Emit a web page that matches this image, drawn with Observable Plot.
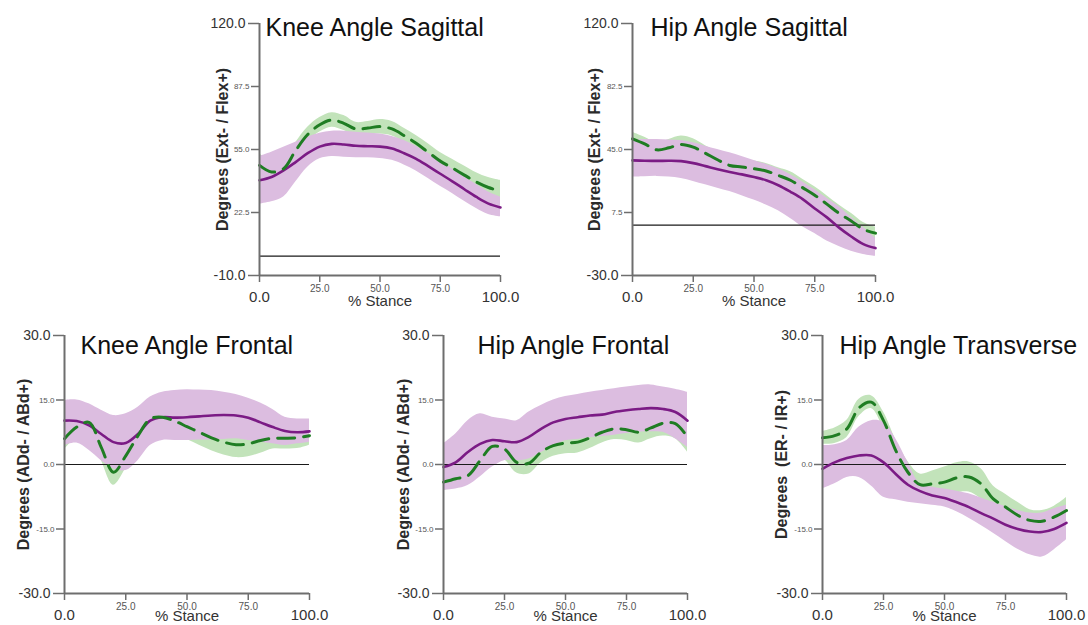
<!DOCTYPE html>
<html><head><meta charset="utf-8">
<script src="https://cdn.jsdelivr.net/npm/d3@7"></script>
<script src="https://cdn.jsdelivr.net/npm/@observablehq/plot@0.6"></script>
<style>
html,body{margin:0;padding:0;background:#fff;overflow:hidden}
#chart{position:relative;width:1088px;height:625px;overflow:hidden;font-family:"Liberation Sans",Arial,sans-serif}
#chart svg{position:absolute;overflow:visible}
</style></head><body><div id="chart"></div>
<script>
// % stance sample points
const stance = [0,5,10,15,20,25,30,35,40,45,50,55,60,65,70,75,80,85,90,95,100];

// Knee Angle Sagittal
const kneeSagPurpleMean = [39.1,40.8,44.2,48.5,53.1,56.5,57.9,57.6,56.9,56.7,56.5,55.5,53.1,50.2,46.4,42.5,38.6,34.5,30.5,27.1,25.1];
const kneeSagPurpleHigh = [51.4,53.6,56.2,58.8,61.3,63.4,64.4,64.4,63.9,63.5,63.0,61.7,59.6,56.7,53.1,49.4,45.0,40.8,36.9,33.1,30.5];
const kneeSagPurpleLow  = [26.8,28.0,30.5,38.2,45.9,50.2,51.4,51.0,50.7,50.7,50.4,49.4,47.0,43.9,40.0,36.0,32.3,28.3,24.6,21.5,20.3];
const kneeSagGreenMean  = [46.8,43.4,45.1,54.5,62.7,67.8,70.2,68.5,65.6,66.1,66.8,65.6,62.2,58.2,53.6,49.0,45.5,41.8,38.2,35.4,33.6];
const kneeSagGreenHigh  = [53.0,48.5,49.5,58.5,66.5,71.5,74.0,72.5,69.0,69.5,70.5,69.5,66.0,62.2,58.0,53.5,50.0,46.5,43.0,40.5,39.0];
const kneeSagGreenLow   = [41.5,38.5,40.5,50.5,58.8,64.0,66.5,64.8,62.0,62.5,63.0,62.0,58.5,54.5,49.5,45.0,41.0,37.2,33.5,30.5,28.5];

// Hip Angle Sagittal
const hipSagPurpleMean = [38.5,38.3,38.2,38.3,38.1,36.9,35.1,33.2,31.6,30.2,28.6,26.7,23.7,19.8,15.5,9.9,4.6,-1.5,-6.8,-11.3,-13.7];
const hipSagPurpleHigh = [50.7,50.9,50.9,50.6,50.3,49.0,47.0,45.0,43.0,40.8,38.5,36.2,33.5,30.0,25.7,21.0,16.0,10.9,4.5,-1.5,-7.8];
const hipSagPurpleLow  = [28.6,28.8,29.0,28.6,27.7,26.0,24.0,22.0,20.0,17.5,14.9,12.0,8.5,4.0,-1.0,-5.0,-9.5,-12.7,-15.5,-17.5,-18.6];
const hipSagGreenMean  = [51.3,48.3,44.8,46.0,48.0,46.4,42.8,38.9,35.5,34.6,33.6,32.2,29.6,26.7,22.3,17.8,12.5,7.0,2.5,-2.5,-4.8];
const hipSagGreenHigh  = [55.3,52.3,49.0,51.0,53.0,51.4,47.3,43.4,40.0,39.1,38.1,36.7,34.1,31.7,27.3,22.8,17.5,12.0,7.0,1.5,-1.3];
const hipSagGreenLow   = [47.3,44.3,40.8,41.0,43.0,41.4,38.3,34.4,31.0,30.1,29.1,27.7,25.1,21.7,17.3,12.8,7.5,2.0,-2.0,-6.5,-8.3];

// Knee Angle Frontal
const kneeFrPurpleMean = [10.2,10.1,9.1,7.1,5.2,5.0,7.1,10.2,11.0,10.9,11.0,11.2,11.4,11.5,11.4,10.9,9.8,8.7,7.8,7.5,7.7];
const kneeFrPurpleHigh = [14.9,15.0,14.1,12.6,11.4,11.8,13.3,15.7,16.8,17.2,17.4,17.3,17.2,16.8,16.3,15.4,14.3,12.8,11.0,10.6,10.6];
const kneeFrPurpleLow  = [4.4,5.0,3.3,0.9,-1.0,-1.4,0.9,4.4,5.6,5.6,5.6,5.7,5.7,5.8,6.0,5.6,5.2,4.8,4.4,4.8,5.2];
const kneeFrGreenMean  = [6.0,8.7,9.8,4.0,-1.8,2.0,6.7,10.6,11.0,10.1,8.8,7.5,6.2,5.2,4.6,4.8,5.6,6.1,6.1,6.2,6.7];
const kneeFrGreenHigh  = [8.0,11.2,12.3,7.0,1.2,5.0,9.7,13.6,14.0,13.1,11.8,10.5,9.2,8.2,7.6,7.8,8.6,8.6,8.6,8.7,10.2];
const kneeFrGreenLow   = [3.5,6.2,7.3,1.0,-4.8,-1.0,3.7,7.6,8.0,7.1,5.8,4.5,3.2,2.2,1.6,1.8,2.6,3.6,3.6,3.7,4.5];

// Hip Angle Frontal
const hipFrPurpleMean = [-0.6,0.5,2.9,4.8,5.7,5.4,5.2,6.4,8.3,9.8,10.6,11.0,11.4,11.6,12.2,12.6,12.9,13.1,12.9,12.2,10.2];
const hipFrPurpleHigh = [4.8,7.1,10.2,11.8,11.0,10.6,10.2,12.2,13.7,15.0,15.8,16.3,16.8,17.2,17.6,18.0,18.4,18.5,18.0,17.5,16.8];
const hipFrPurpleLow  = [-6.0,-5.7,-4.9,-2.9,-0.6,0.9,0.9,1.3,2.8,4.2,5.5,5.8,6.2,6.5,6.8,7.2,7.5,7.6,7.5,6.0,4.0];
const hipFrGreenMean  = [-4.1,-3.3,-2.6,0.9,4.2,3.6,0.5,0.3,2.9,4.4,5.0,5.2,6.2,7.5,8.3,8.1,7.5,8.5,9.6,9.5,6.4];
const hipFrGreenHigh  = [-2.1,-1.3,-0.6,3.4,6.7,6.1,3.0,2.8,5.4,6.9,7.5,7.7,8.7,10.0,10.8,10.6,10.0,11.0,12.6,13.0,9.9];
const hipFrGreenLow   = [-6.1,-5.3,-4.6,-1.6,1.7,1.1,-2.0,-2.2,0.4,1.9,2.5,2.7,3.7,5.0,5.8,5.6,5.0,6.0,6.6,6.0,2.9];

// Hip Angle Transverse
const hipTrPurpleMean = [-1.0,0.5,1.5,2.1,2.1,0.5,-2.2,-4.7,-6.2,-7.2,-7.8,-8.8,-9.9,-11.3,-12.6,-14.0,-15.0,-15.6,-15.7,-15.0,-13.6];
const hipTrPurpleHigh = [4.4,4.6,5.6,8.7,10.2,9.8,6.0,0.5,-4.5,-5.3,-5.7,-6.2,-6.8,-7.8,-8.8,-9.8,-10.7,-11.3,-11.3,-10.3,-9.5];
const hipTrPurpleLow  = [-5.7,-4.5,-3.0,-3.0,-5.0,-7.6,-8.2,-8.8,-9.1,-9.5,-9.9,-11.0,-12.5,-14.2,-16.0,-17.9,-19.7,-21.0,-21.5,-19.8,-17.5];
const hipTrGreenMean  = [6.2,6.7,8.3,13.2,14.5,10.2,3.3,-1.8,-4.7,-4.5,-4.1,-3.1,-2.9,-4.5,-8.0,-9.9,-11.8,-13.0,-13.2,-12.2,-10.7];
const hipTrGreenHigh  = [7.7,8.5,10.3,15.2,16.0,12.2,5.8,0.7,-2.2,-1.5,-0.6,0.4,0.6,-1.0,-5.0,-6.9,-8.8,-10.5,-10.7,-9.7,-7.7];
const hipTrGreenLow   = [4.7,4.9,6.3,11.2,13.0,8.2,0.8,-4.3,-7.2,-7.5,-7.6,-6.6,-6.4,-8.0,-11.0,-12.9,-14.8,-15.5,-15.7,-14.7,-13.7];

// Tick labels
const xEndTicks = [0, 100];
const xMidTicks = [25, 50, 75];
const sagKneeEndTicks = [120, -10];
const sagKneeMidTicks = [87.5, 55, 22.5];
const sagHipEndTicks = [120, -30];
const sagHipMidTicks = [82.5, 45, 7.5];
const frontEndTicks = [30, -30];
const frontMidTicks = [15, 0, -15];

const titles = ["Knee Angle Sagittal","Hip Angle Sagittal","Knee Angle Frontal","Hip Angle Frontal","Hip Angle Transverse"];
const yLabels = ["Degrees (Ext- / Flex+)","Degrees (Ext- / Flex+)","Degrees (ADd- / ABd+)","Degrees (ADd- / ABd+)","Degrees\u00a0 (ER- / IR+)"];

const panels = [
  {title: titles[0], yLabel: yLabels[0], domain: [-10,120], end: sagKneeEndTicks, mid: sagKneeMidTicks,
   left: 259, top: 23, fw: 241, fh: 252, mB: 40, tdx: 6, tdy: 4.5, ldx: -37, sdy: 26,
   pm: kneeSagPurpleMean, ph: kneeSagPurpleHigh, pl: kneeSagPurpleLow, gm: kneeSagGreenMean, gh: kneeSagGreenHigh, gl: kneeSagGreenLow},
  {title: titles[1], yLabel: yLabels[1], domain: [-30,120], end: sagHipEndTicks, mid: sagHipMidTicks,
   left: 632, top: 23, fw: 243, fh: 252, mB: 40, tdx: 18, tdy: 4.5, ldx: -38, sdy: 26,
   pm: hipSagPurpleMean, ph: hipSagPurpleHigh, pl: hipSagPurpleLow, gm: hipSagGreenMean, gh: hipSagGreenHigh, gl: hipSagGreenLow},
  {title: titles[2], yLabel: yLabels[2], domain: [-30,30], end: frontEndTicks, mid: frontMidTicks,
   left: 64, top: 335, fw: 245, fh: 258, mB: 32, tdx: 16, tdy: 10, ldx: -41, sdy: 23,
   pm: kneeFrPurpleMean, ph: kneeFrPurpleHigh, pl: kneeFrPurpleLow, gm: kneeFrGreenMean, gh: kneeFrGreenHigh, gl: kneeFrGreenLow},
  {title: titles[3], yLabel: yLabels[3], domain: [-30,30], end: frontEndTicks, mid: frontMidTicks,
   left: 443, top: 335, fw: 244, fh: 258, mB: 32, tdx: 34, tdy: 10, ldx: -40, sdy: 23,
   pm: hipFrPurpleMean, ph: hipFrPurpleHigh, pl: hipFrPurpleLow, gm: hipFrGreenMean, gh: hipFrGreenHigh, gl: hipFrGreenLow},
  {title: titles[4], yLabel: yLabels[4], domain: [-30,30], end: frontEndTicks, mid: frontMidTicks,
   left: 822, top: 335, fw: 244, fh: 258, mB: 32, tdx: 17, tdy: 10, ldx: -41, sdy: 23,
   pm: hipTrPurpleMean, ph: hipTrPurpleHigh, pl: hipTrPurpleLow, gm: hipTrGreenMean, gh: hipTrGreenHigh, gl: hipTrGreenLow}
];

const FONT = '"Liberation Sans", Arial, sans-serif';
const AXIS = "#6e6e6e";
const fmt = d => d.toFixed(1);
const chart = document.getElementById("chart");

for (const p of panels) {
  const rows = stance.map((x, i) => ({x, pm: p.pm[i], ph: p.ph[i], pl: p.pl[i], gm: p.gm[i], gh: p.gh[i], gl: p.gl[i]}));
  const mL = 60, mR = 24, mT = 25;
  const svg = Plot.plot({
    width: mL + p.fw + mR,
    height: mT + p.fh + p.mB,
    marginLeft: mL, marginRight: mR, marginTop: mT, marginBottom: p.mB,
    style: {fontFamily: FONT, background: "transparent", overflow: "visible"},
    x: {domain: [0, 100]},
    y: {domain: p.domain},
    marks: [
      Plot.areaY(rows, {x: "x", y1: "gl", y2: "gh", fill: "#c2e3ba", curve: "catmull-rom"}),
      Plot.areaY(rows, {x: "x", y1: "pl", y2: "ph", fill: "#dcbde0", curve: "catmull-rom"}),
      Plot.ruleY([0], {stroke: "#1a1a1a", strokeWidth: 1.2}),
      Plot.lineY(rows, {x: "x", y: "pm", stroke: "#7b1b85", strokeWidth: 2.6, curve: "catmull-rom"}),
      Plot.lineY(rows, {x: "x", y: "gm", stroke: "#1f7d23", strokeWidth: 3, strokeDasharray: "17,9", curve: "catmull-rom"}),
      Plot.ruleX([0], {stroke: AXIS, strokeWidth: 2}),
      Plot.ruleY([p.domain[0]], {stroke: AXIS, strokeWidth: 2}),
      Plot.axisY(p.end, {tickSize: 11, tickPadding: 3, fontSize: 14, tickFormat: fmt, stroke: AXIS, fill: "#333", strokeWidth: 1.5, label: null}),
      Plot.axisY(p.mid, {tickSize: 8, tickPadding: 2, fontSize: 8, tickFormat: fmt, stroke: AXIS, fill: "#555", strokeWidth: 1.5, label: null}),
      Plot.axisX(xEndTicks, {tickSize: 7, tickPadding: 9, fontSize: 15, tickFormat: fmt, stroke: AXIS, fill: "#333", strokeWidth: 1.5, label: null}),
      Plot.axisX(xMidTicks, {tickSize: 7, tickPadding: 2, fontSize: 10, tickFormat: fmt, stroke: AXIS, fill: "#555", strokeWidth: 1.5, label: null}),
      Plot.text(["% Stance"], {frameAnchor: "bottom", dy: p.sdy, fontSize: 15, fill: "#333", lineAnchor: "middle"}),
      Plot.text([p.yLabel], {frameAnchor: "left", rotate: -90, dx: p.ldx, fontSize: 16, fontWeight: "bold", fill: "#2a2a2a", textAnchor: "middle", lineAnchor: "middle"}),
      Plot.text([p.title], {frameAnchor: "top-left", dx: p.tdx, dy: p.tdy, fontSize: 25, fill: "#111", textAnchor: "start", lineAnchor: "middle"})
    ]
  });
  svg.style.left = (p.left - mL) + "px";
  svg.style.top = (p.top - mT) + "px";
  chart.appendChild(svg);
}
</script></body></html>
